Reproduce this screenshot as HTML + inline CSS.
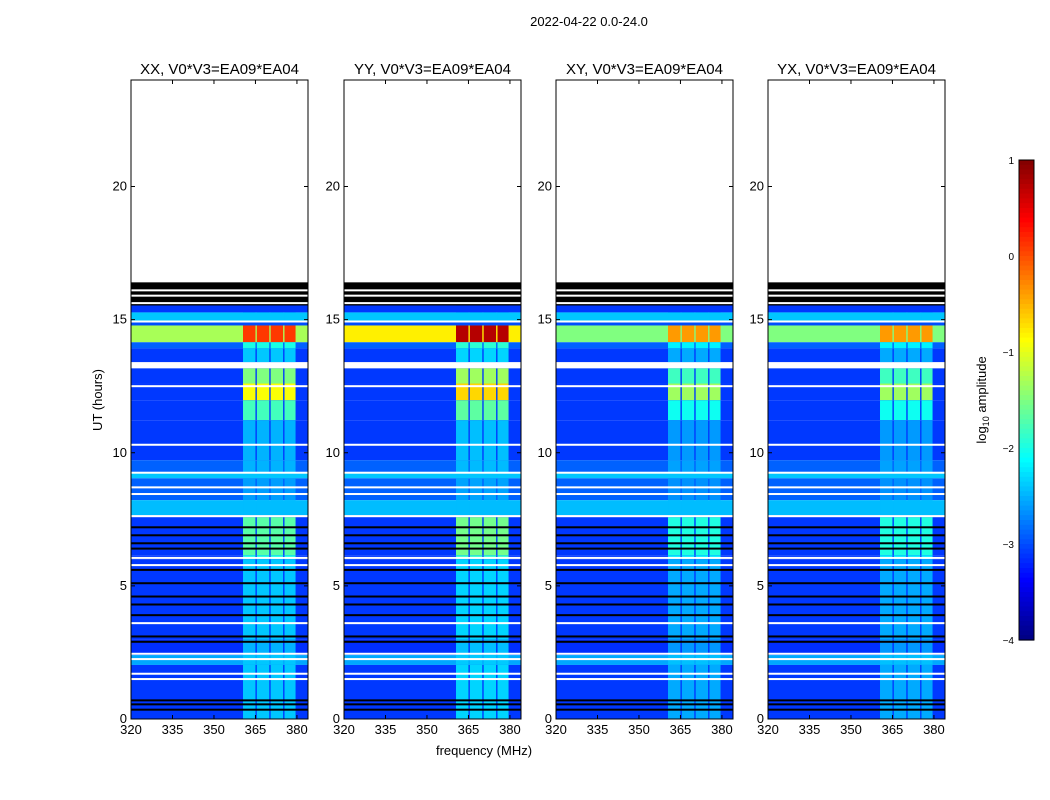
<!DOCTYPE html>
<html><head><meta charset="utf-8">
<style>
body{margin:0;background:#fff;}
svg{display:block;font-family:"Liberation Sans","DejaVu Sans",sans-serif;}
</style></head>
<body>
<svg id="fig" width="1050" height="800" xmlns="http://www.w3.org/2000/svg">
<rect width="1050" height="800" fill="#fff"/>
<text x="589" y="26" font-size="13" text-anchor="middle">2022-04-22 0.0-24.0</text>
<text transform="translate(102,400) rotate(-90)" font-size="13" text-anchor="middle">UT (hours)</text>
<text x="484" y="755" font-size="13" text-anchor="middle">frequency (MHz)</text>
<g id="panels"></g>
<g id="cbar"></g>
<text transform="translate(986,400) rotate(-90)" font-size="13" text-anchor="middle">log<tspan font-size="9" dy="3">10</tspan><tspan dy="-3"> amplitude</tspan></text>
</svg>
<script>
const panelTitles = ["XX, V0*V3=EA09*EA04","YY, V0*V3=EA09*EA04","XY, V0*V3=EA09*EA04","YX, V0*V3=EA09*EA04"];
const panelLeft = [131,344,556,768];
const xTicks = [320,335,350,365,380];
const yTicks = [0,5,10,15,20];
const cbTicks = [1,0,-1,-2,-3,-4];
// time segments: start hour, end hour, base level, band level (null => flagged black, "gap" => white)
const segStart = [15.53,15.27,14.9,14.78,14.15,13.92,13.4,13.17,12.6,11.97,11.22,9.72,9.27,9.04,8.22,7.65,7.58,6.15,6.0,3.0,2.4,2.03,0];
const segEnd   = [16.4,15.53,15.27,14.9,14.78,14.15,13.92,13.4,13.17,12.6,11.97,11.22,9.72,9.27,9.04,8.22,7.65,7.58,6.15,6.0,3.0,2.4,2.03];
const segBase  = [null,-3.1,-2.4,-3.0,-1.3,-2.9,-3.1,"gap",-3.1,-3.1,-3.1,-3.1,-2.9,-2.4,-2.9,-2.45,-3.1,-3.1,-3.1,-3.1,-3.15,-2.55,-3.1];
const segBand  = [null,-3.1,-2.4,-3.0,0.1,-2.0,-2.4,"gap",-1.5,-0.9,-1.8,-2.5,-2.5,-2.4,-2.6,-2.45,-2.45,-1.7,-2.0,-2.4,-2.5,-2.4,-2.4];
const panelRow4Offset = [0,0.5,-0.2,-0.2];
const panelBandScale = [1,1.1,0.8,0.8];
const bandLo = [360.5,365.5,370.5,375.5];
const bandHi = [365,370,375,379.5];
const whiteLines = [15.62,15.9,16.1,14.93,13.3,12.5,10.3,9.25,8.7,8.45,7.62,6.05,5.78,3.6,2.45,2.25,1.7,1.5];
const blackLines = [7.2,6.9,6.6,6.4,5.6,5.1,4.6,4.3,3.9,3.1,2.9,0.7,0.55,0.35];

const NS="http://www.w3.org/2000/svg";
const W=177, yTop=80, yBot=719, fmin=320, fmax=384, tmin=0, tmax=24;
function xs(f,p){return panelLeft[p]+(f-fmin)/(fmax-fmin)*W;}
function ys(t){return yBot-(t-tmin)/(tmax-tmin)*(yBot-yTop);}
function jet(v){
  let x=(v+4)/5; x=Math.max(0,Math.min(1,x));
  function c(a){return Math.max(0,Math.min(1,1.5-Math.abs(4*x-a)));}
  const r=c(3),g=c(2),b=c(1);
  return `rgb(${Math.round(r*255)},${Math.round(g*255)},${Math.round(b*255)})`;
}
function mk(tag,attrs,parent){const e=document.createElementNS(NS,tag);for(const k in attrs)e.setAttribute(k,attrs[k]);parent.appendChild(e);return e;}
const panels=document.getElementById('panels');
for(let p=0;p<4;p++){
  const g=mk('g',{},panels);
  
  
  const hm=mk('g',{},g);
  
  
  for(let i=0;i<segStart.length;i++){
    const y0=ys(segEnd[i]), y1=ys(segStart[i]);
    const off=(i===4)?panelRow4Offset[p]:0;
    let col;
    if(segBase[i]===null) col='#000'; else if(segBase[i]==='gap') col='#fff'; else col=jet(segBase[i]+off);
    const r=mk('rect',{x:xs(fmin,p),y:y0,width:W,height:y1-y0,fill:col},hm);
    
    
    if(typeof segBase[i]==='number'){
      const base=segBase[i]+off;
      const bl=base+(segBand[i]-segBase[i])*panelBandScale[p];
      for(let b=0;b<bandLo.length;b++){
        const br=mk('rect',{x:xs(bandLo[b],p),y:y0,width:xs(bandHi[b],p)-xs(bandLo[b],p),height:y1-y0,fill:jet(bl)},hm);
        
        
      }
    }
  }
  for(const t of whiteLines){
    const l=mk('rect',{x:xs(fmin,p),y:ys(t)-1,width:W,height:2,fill:'#fff'},hm);
    
    
  }
  for(const t of blackLines){
    const l=mk('rect',{x:xs(fmin,p),y:ys(t)-1,width:W,height:2,fill:'#000'},hm);
    
    
  }
  const fr=mk('rect',{x:panelLeft[p],y:yTop,width:W,height:yBot-yTop,fill:'none',stroke:'#000','stroke-width':1},g);
  
  
  const tt=mk('text',{x:panelLeft[p]+W/2,y:74,'font-size':15,'text-anchor':'middle'},g);
  tt.textContent=panelTitles[p];
  
  
  for(const f of xTicks){
    const x=xs(f,p);
    mk('line',{x1:x,x2:x,y1:yBot,y2:yBot-4,stroke:'#000'},g);
    mk('line',{x1:x,x2:x,y1:yTop,y2:yTop+4,stroke:'#000'},g);
    const t=mk('text',{x:x,y:yBot+15,'font-size':13,'text-anchor':'middle'},g);
    t.textContent=f;
    
    
  }
  for(const v of yTicks){
    const y=ys(v);
    mk('line',{x1:panelLeft[p],x2:panelLeft[p]+4,y1:y,y2:y,stroke:'#000'},g);
    mk('line',{x1:panelLeft[p]+W,x2:panelLeft[p]+W-4,y1:y,y2:y,stroke:'#000'},g);
    const t=mk('text',{x:panelLeft[p]-4,y:y+4,'font-size':13,'text-anchor':'end'},g);
    t.textContent=v;
    
    
  }
}
const cb=document.getElementById('cbar');
const cx=1019,cw=15,ct=160,cbm=640;
for(let i=0;i<100;i++){
  const v=1-5*(i+0.5)/100;
  mk('rect',{x:cx,y:ct+i*(cbm-ct)/100,width:cw,height:(cbm-ct)/100+0.6,fill:jet(v)},cb);
}
mk('rect',{x:cx,y:ct,width:cw,height:cbm-ct,fill:'none',stroke:'#000'},cb);
for(const v of cbTicks){
  const y=ct+(1-v)/5*(cbm-ct);
  const t=mk('text',{x:cx-5,y:y+4,'font-size':10,'text-anchor':'end'},cb);
  t.textContent=v<0?'\u2212'+(-v):v;
  
  
}
</script>
</body></html>
